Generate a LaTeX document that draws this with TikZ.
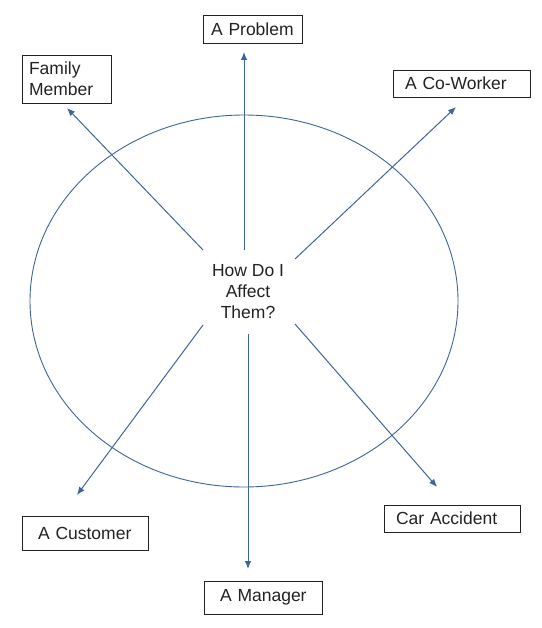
\documentclass[tikz,border=0pt]{standalone}
\usepackage{fontspec}
\setmainfont{Liberation Sans}
\usetikzlibrary{arrows.meta}
\definecolor{linkblue}{RGB}{62,101,152}
\definecolor{inkgray}{RGB}{34,34,34}
\tikzset{
 box/.style={draw=inkgray,line width=0.9pt,align=left,inner ysep=0pt,text=inkgray,
  font=\fontsize{17.5}{21}\selectfont},
 link/.style={linkblue,line width=1pt,-{Latex[length=8pt,width=6.5pt]}}
}
\begin{document}
\begin{tikzpicture}[x=1pt,y=-1pt]
\useasboundingbox (0,0) rectangle (541,628);
\draw[linkblue,line width=0.9pt](244,301)ellipse[x radius=214,y radius=186];
% centre text
\node[align=center,text=inkgray,font=\fontsize{17.5}{21}\selectfont](hub)at(248,292){How Do I\\Affect\\Them?};
% boxes
\node[box,text width=83pt,inner xsep=8pt,minimum height=28pt](prob)at(252.5,29){\mbox{A Problem}};
\node[box,text width=75pt,inner xsep=7pt,minimum height=48pt](fam)at(66.5,79){Family\\Member};
\node[box,text width=113pt,inner xsep=12pt,minimum height=27pt](cow)at(461.5,83.5){\mbox{A Co-Worker}};
\node[box,text width=94pt,inner xsep=16pt,minimum height=34pt](cust)at(85,533){\mbox{A Customer}};
\node[box,text width=112pt,inner xsep=12pt,minimum height=27pt](car)at(452,518.5){\mbox{Car Accident}};
\node[box,text width=86pt,inner xsep=16pt,minimum height=33pt](man)at(263,597.5){\mbox{A Manager}};
% arrow ends
\coordinate(s1)at(244,250);\coordinate(t1)at(244,52);
\coordinate(s2)at(203,250);\coordinate(t2)at(67,108);
\coordinate(s3)at(295,259);\coordinate(t3)at(456,107);
\coordinate(s4)at(203,325);\coordinate(t4)at(77,495);
\coordinate(s5)at(295,324);\coordinate(t5)at(437,487);
\coordinate(s6)at(248,334);\coordinate(t6)at(248,569);
\foreach \i in {1,...,6}
 \draw[link](s\i)--(t\i);
\end{tikzpicture}
\end{document}
